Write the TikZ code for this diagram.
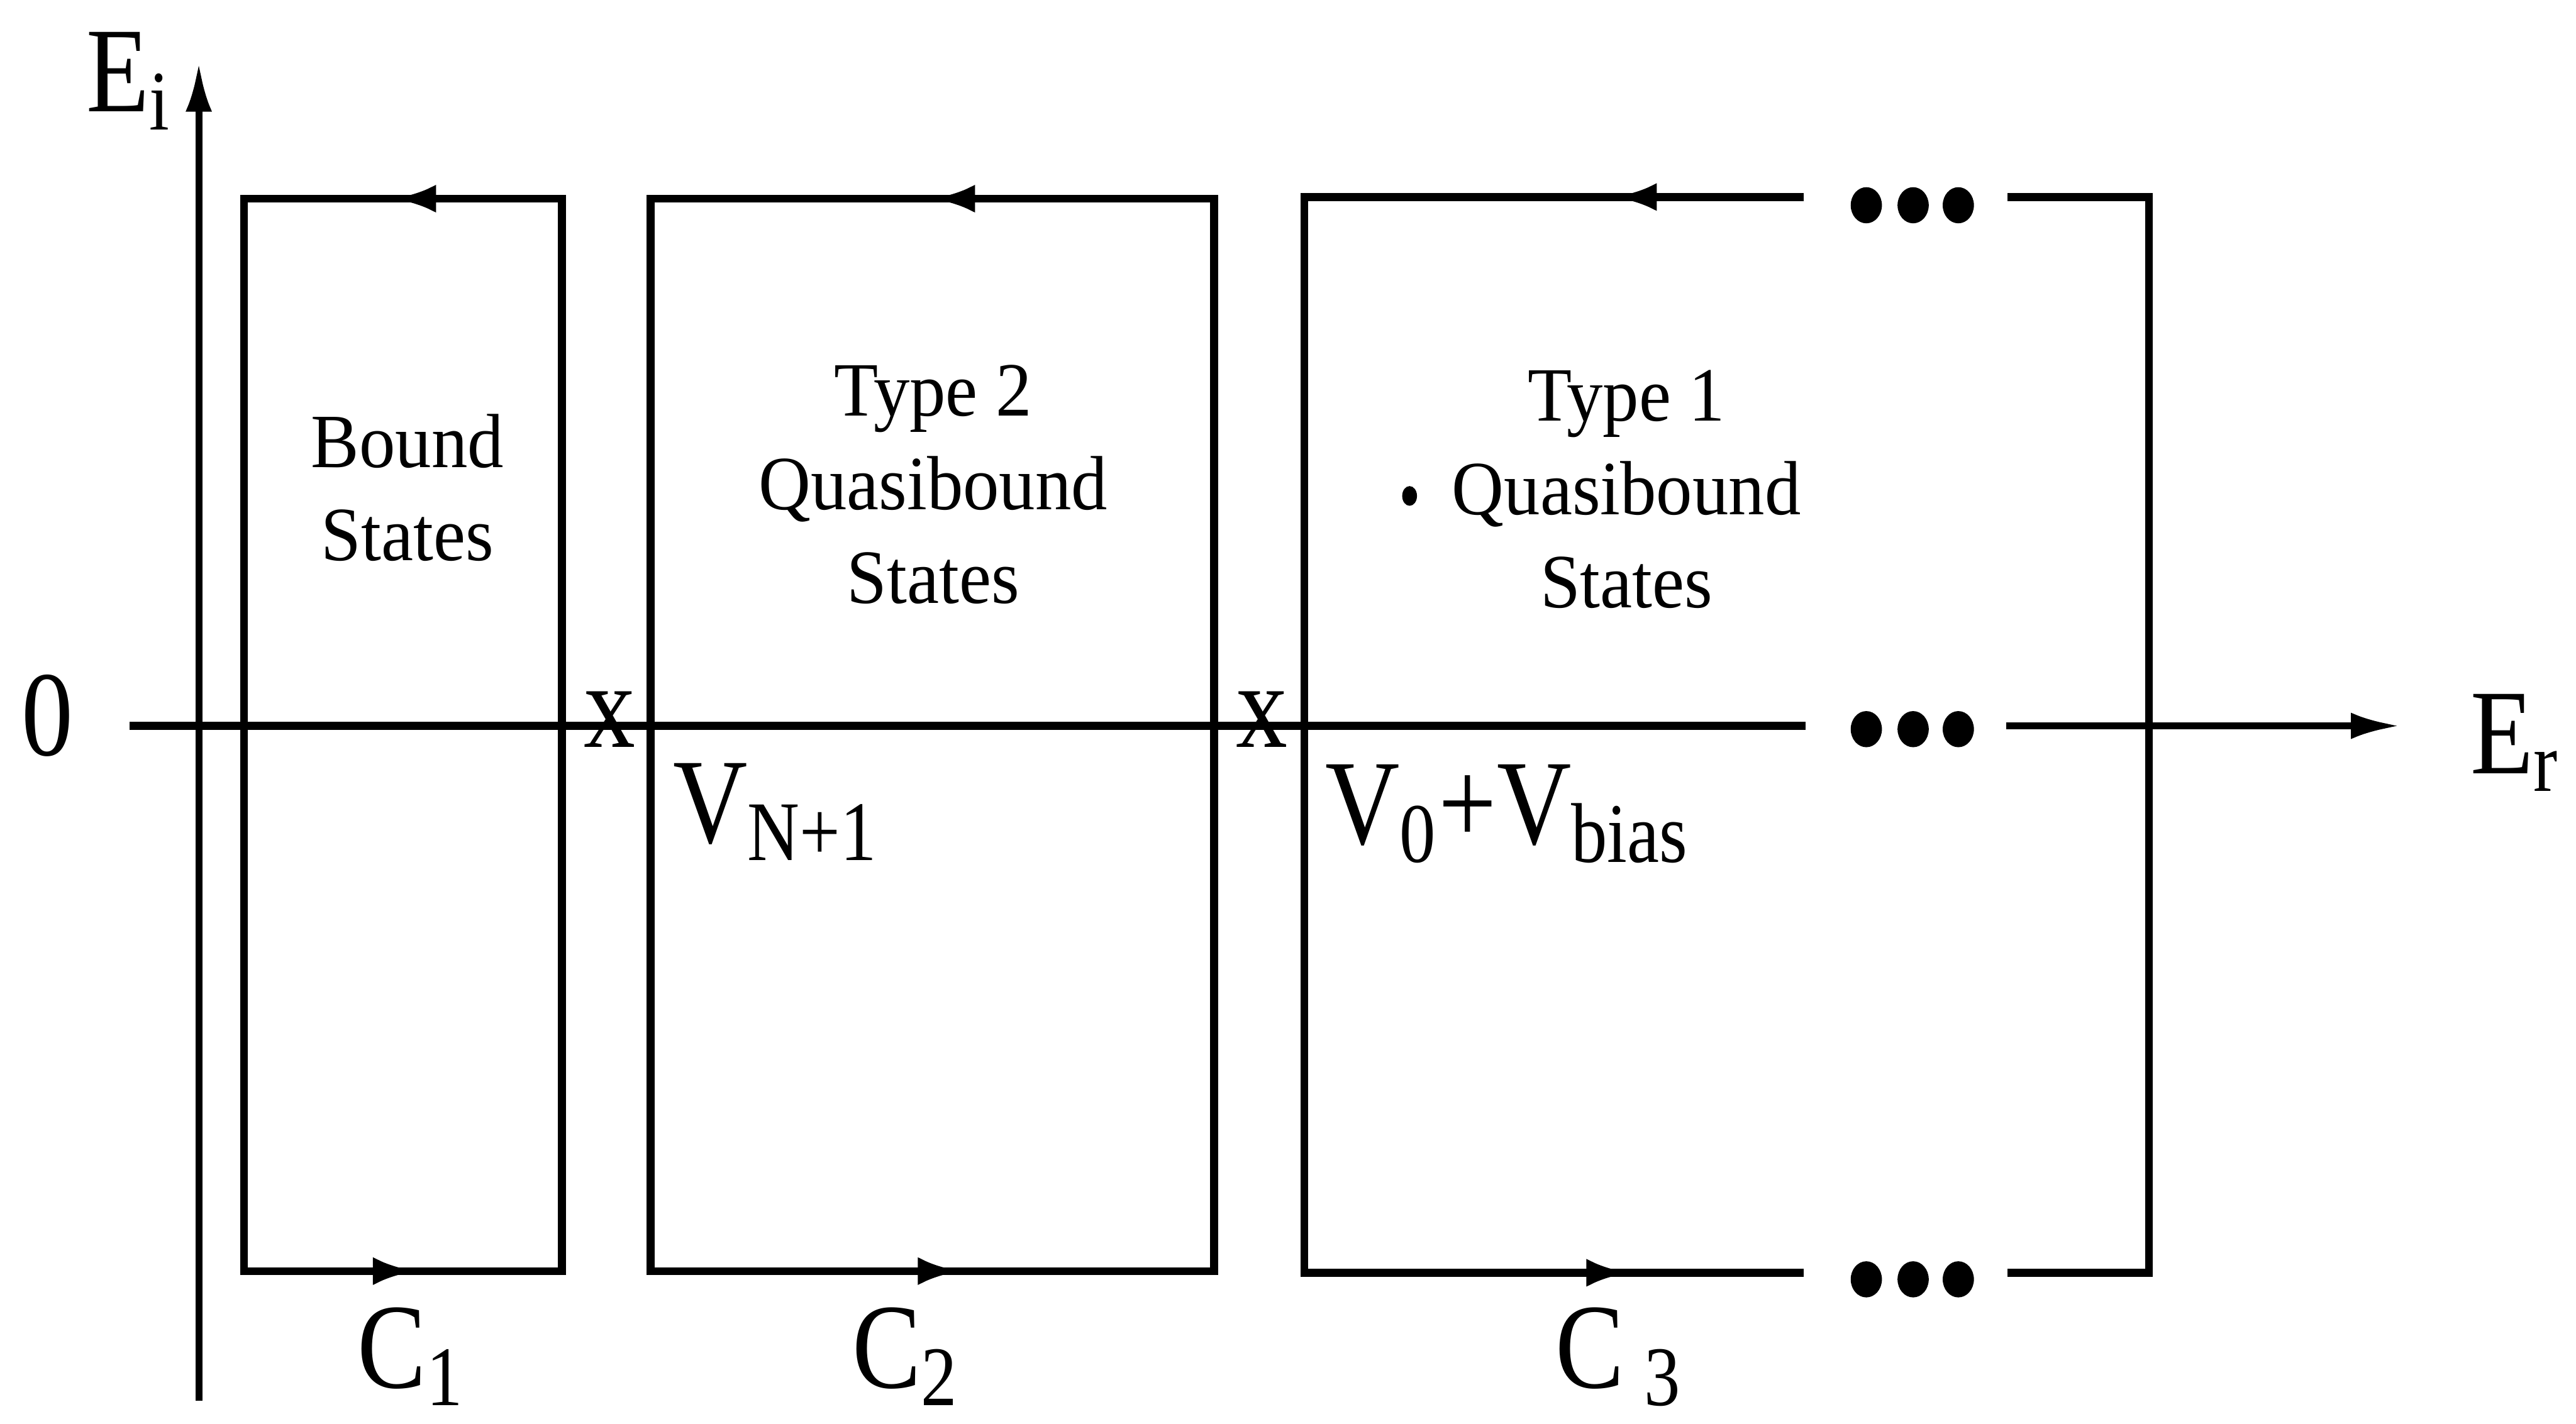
\documentclass[tikz,border=0pt]{standalone}
\usepackage{fontspec}
\setmainfont{Liberation Serif}[FakeStretch=0.94]
\newfontfamily\lblfont{Liberation Serif}[FakeStretch=0.85]
\usetikzlibrary{arrows.meta,decorations.markings}
\definecolor{inkblk}{RGB}{0,0,0}
\tikzset{
  cont/.style={inkblk, line width=1.35pt},
  midarr/.style={postaction={decorate, decoration={markings,
      mark=at position #1 with {\arrow{Latex[length=2.6mm,width=1.7mm]}}}}},
  axarr/.style={-{Latex[length=3mm,width=1.6mm]}, inkblk, line width=1.2pt},
  txt/.style={font=\fontsize{13.3}{16.2}\selectfont, align=center, inner sep=0pt},
  lbl/.style={font=\lblfont\fontsize{21}{24}\selectfont, inner sep=0pt, anchor=base west},
  infdot/.style={fill=inkblk},
}
\newcommand{\infdots}[1]{%
  \foreach \dx in {11.36,11.645,11.92}
    \fill[infdot] (\dx,#1) ellipse (0.095 and 0.11);}

\begin{document}
\begin{tikzpicture}
  \useasboundingbox (0,0) rectangle (15.68,8.67);
  \coordinate (ybot) at (1.21,0.14);
  \coordinate (ytop) at (1.21,8.29);
  \coordinate (xl) at (0.79,4.25);
  \coordinate (xgl) at (10.99,4.25);
  \coordinate (xgr) at (12.21,4.25);
  \coordinate (xr) at (14.61,4.25);
  \draw[axarr] (ybot) -- (ytop);
  \draw[cont] (xl) -- (xgl);
  \draw[axarr] (xgr) -- (xr);
  \foreach \n/\xa/\xb/\pt/\pb in {1/1.485/3.42/0.53/0.54, 2/3.96/7.39/0.50/0.55} {
    \coordinate (b\n nw) at (\xa,7.46);
    \coordinate (b\n ne) at (\xb,7.46);
    \coordinate (b\n sw) at (\xa,0.93);
    \coordinate (b\n se) at (\xb,0.93);
    \draw[cont] (b\n nw) rectangle (b\n se);
    \draw[cont, midarr=\pt] (b\n ne) -- (b\n nw);
    \draw[cont, midarr=\pb] (b\n sw) -- (b\n se);
  }
  \coordinate (b3nw) at (7.94,7.47);
  \coordinate (b3sw) at (7.94,0.92);
  \coordinate (b3ne) at (13.08,7.47);
  \coordinate (b3se) at (13.08,0.92);
  \coordinate (g3tl) at (10.98,7.47);
  \coordinate (g3tr) at (12.22,7.47);
  \coordinate (g3bl) at (10.98,0.92);
  \coordinate (g3br) at (12.22,0.92);
  \draw[cont] (g3tl) -- (b3nw) -- (b3sw) -- (g3bl);
  \draw[cont, midarr=0.38] (g3tl) -- (b3nw);
  \draw[cont, midarr=0.65] (b3sw) -- (g3bl);
  \draw[cont] (g3tr) -- (b3ne) -- (b3se) -- (g3br);
  \infdots{7.42}
  \infdots{4.23}
  \infdots{0.88}
  \node[lbl] (ei) at (0.52,7.99) {E\textsubscript{i}};
  \node[lbl, anchor=base] (zero) at (0.29,4.07) {0};
  \node[lbl] (er) at (15.03,3.96) {E\textsubscript{r}};
  \node[lbl, anchor=base] (xa) at (3.71,4.12) {x};
  \node[lbl, anchor=base] (xb) at (7.68,4.12) {x};
  \node[lbl] (vn) at (4.09,3.54) {V\textsubscript{N+1}};
  \node[lbl] (vb) at (8.06,3.53) {V\textsubscript{0}+V\textsubscript{bias}};
  \node[lbl] (c1) at (2.17,0.22) {C\textsubscript{1}};
  \node[lbl] (c2) at (5.18,0.22) {C\textsubscript{2}};
  \node[lbl] (c3) at (9.46,0.22) {C\,\textsubscript{3}};
  \node[txt] (t1) at (2.48,5.70) {Bound\\States};
  \node[txt] (t2) at (5.68,5.72) {Type 2\\Quasibound\\States};
  \node[txt] (t3) at (9.90,5.69) {Type 1\\Quasibound\\States};
  \fill[infdot] (8.58,5.65) ellipse (0.045 and 0.06);
\end{tikzpicture}
\end{document}
